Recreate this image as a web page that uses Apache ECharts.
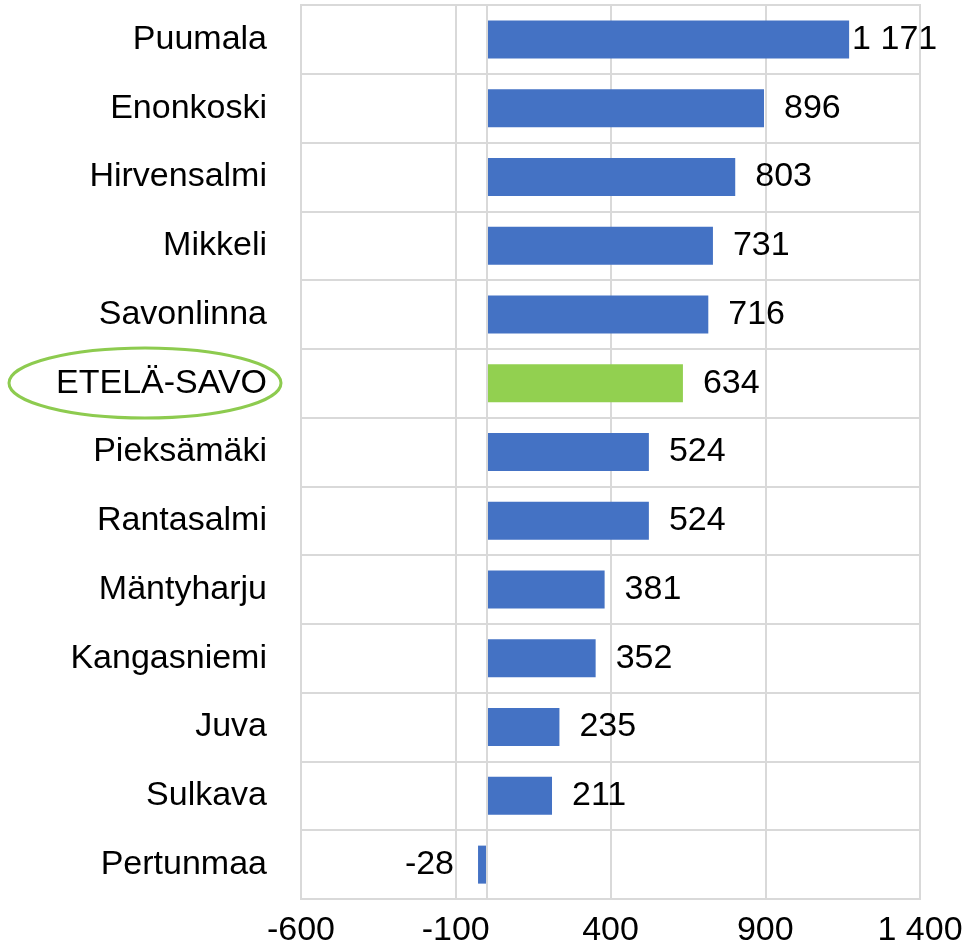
<!DOCTYPE html>
<html>
<head>
<meta charset="utf-8">
<script src="https://cdn.jsdelivr.net/npm/echarts@6/dist/echarts.min.js"></script>
<style>
  html, body { margin: 0; padding: 0; background: #fff; }
  #chart { width: 967px; height: 944px; }
</style>
</head>
<body>
<div id="chart"></div>
<script>
const municipalities = [
  'Puumala', 'Enonkoski', 'Hirvensalmi', 'Mikkeli', 'Savonlinna', 'ETELÄ-SAVO',
  'Pieksämäki', 'Rantasalmi', 'Mäntyharju', 'Kangasniemi', 'Juva', 'Sulkava', 'Pertunmaa'
];
const values = [1171, 896, 803, 731, 716, 634, 524, 524, 381, 352, 235, 211, -28];
const regionName = 'ETELÄ-SAVO';
const axisMin = -600;
const axisMax = 1400;
const axisStep = 500;

const FONT = 'Liberation Sans, Arial, sans-serif';
const FONT_SIZE = 34;
const BLUE = '#4472C4';
const GREEN = '#92D050';
const GRID_GREY = '#d9d9d9';

// 1171 -> "1 171"
const fmt = v => {
  const s = String(Math.abs(v)).replace(/\B(?=(\d{3})+(?!\d))/g, ' ');
  return (v < 0 ? '-' : '') + s;
};

const barData = values.map((v, i) => {
  const item = { value: v };
  if (municipalities[i] === regionName) item.itemStyle = { color: GREEN };
  if (v < 0) item.label = { position: 'left', distance: 24 };
  if (v >= 1000) item.label = { distance: 3 };
  return item;
});

const chart = echarts.init(document.getElementById('chart'));
chart.setOption({
  animation: false,
  grid: {
    left: 301, right: 47, top: 5, bottom: 45,
    outerBoundsMode: 'none',
    show: true, borderColor: GRID_GREY, borderWidth: 2
  },
  xAxis: {
    type: 'value',
    min: axisMin, max: axisMax, interval: axisStep,
    axisLine: { show: false },
    axisTick: { show: false },
    axisLabel: { fontFamily: FONT, fontSize: FONT_SIZE, color: '#000', margin: 15, formatter: fmt },
    splitLine: { lineStyle: { color: GRID_GREY, width: 2 } }
  },
  yAxis: {
    type: 'category',
    data: municipalities,
    inverse: true,
    axisLine: { show: true, onZero: false, lineStyle: { color: GRID_GREY, width: 2 } },
    axisTick: { show: false },
    axisLabel: { fontFamily: FONT, fontSize: FONT_SIZE, color: '#000', margin: 34 },
    splitLine: { show: true, lineStyle: { color: GRID_GREY, width: 2 } }
  },
  series: [{
    type: 'bar',
    data: barData,
    barWidth: 38,
    itemStyle: { color: BLUE },
    label: {
      show: true, position: 'right', distance: 20,
      fontFamily: FONT, fontSize: FONT_SIZE, color: '#000',
      formatter: p => fmt(p.value)
    },
    markLine: {
      silent: true, symbol: 'none', label: { show: false },
      lineStyle: { color: GRID_GREY, width: 2, type: 'solid' },
      data: [{ xAxis: 0 }]
    }
  }],
  graphic: [{
    type: 'ellipse',
    shape: { cx: 145, cy: 383, rx: 136, ry: 35 },
    style: { fill: 'none', stroke: '#8DCB4F', lineWidth: 3 },
    silent: true
  }]
});
</script>
</body>
</html>
